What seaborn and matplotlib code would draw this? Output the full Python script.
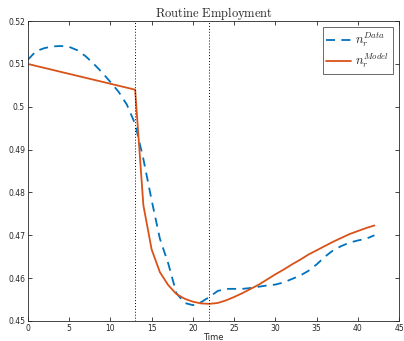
import numpy as np
import pandas as pd
import matplotlib.pyplot as plt
import seaborn as sns

# Routine employment, data vs model
time = list(range(0, 43))
n_data = [0.5110, 0.5130, 0.5137, 0.5141, 0.5142, 0.5140, 0.5132, 0.5118, 0.5100, 0.5080,
          0.5058, 0.5035, 0.5005, 0.4960, 0.4878, 0.4782, 0.4692, 0.4635, 0.4565, 0.4542,
          0.4537, 0.4544, 0.4556, 0.4570, 0.4575, 0.4575, 0.4575, 0.4577, 0.4580, 0.4583,
          0.4585, 0.4590, 0.4598, 0.4606, 0.4617, 0.4632, 0.4650, 0.4665, 0.4675, 0.4683,
          0.4688, 0.4692, 0.4700]
n_model = [0.5100, 0.50954, 0.50908, 0.50862, 0.50815, 0.50769, 0.50723, 0.50677, 0.50631, 0.50585,
           0.50538, 0.50492, 0.50446, 0.5040, 0.4770, 0.4667, 0.4614, 0.4584, 0.4563, 0.4552,
           0.4545, 0.4541, 0.4540, 0.4542, 0.4548, 0.4556, 0.4565, 0.4575, 0.4585, 0.4597,
           0.4609, 0.4620, 0.4632, 0.4643, 0.4655, 0.4665, 0.4675, 0.4685, 0.4694, 0.4703,
           0.4710, 0.4717, 0.4723]
shock_lines = [13, 22]

df = pd.DataFrame({'Time': time, 'Data': n_data, 'Model': n_model})

sns.set_style('white')
plt.rcParams['mathtext.fontset'] = 'cm'
plt.rcParams['font.family'] = ['DejaVu Sans']

fig = plt.figure(figsize=(4.04, 3.41), dpi=100)
ax = fig.add_axes([0.069, 0.0587, 0.919, 0.8793])

sns.lineplot(data=df, x='Time', y='Data', ax=ax, color='#0072BD', lw=1.3,
             linestyle=(0, (5, 3.5)), label=r'$n_r^{Data}$')
sns.lineplot(data=df, x='Time', y='Model', ax=ax, color='#D95319', lw=1.3,
             label=r'$n_r^{Model}$')
for xv in shock_lines:
    ax.axvline(xv, color='black', lw=0.7, linestyle=(0, (1, 2)))

ax.set_xlim(0, 45)
ax.set_ylim(0.45, 0.52)
ax.set_xticks(np.arange(0, 46, 5))
ax.set_yticks(np.arange(0.45, 0.5201, 0.01))
ax.set_yticklabels(['0.45', '0.46', '0.47', '0.48', '0.49', '0.5', '0.51', '0.52'])
ax.tick_params(direction='in', length=3, width=0.6, labelsize=5.5, colors='#262626',
               top=True, right=True, bottom=True, left=True, pad=2)
for s in ax.spines.values():
    s.set_color('#262626')
    s.set_linewidth(0.6)

ax.set_xlabel('Time', fontsize=6, color='#262626', labelpad=0)
ax.set_ylabel('')
ax.set_title(r'$\mathrm{Routine\ Employment}$', fontsize=9, pad=3)

leg = ax.legend(loc='upper right', fontsize=9, frameon=True, fancybox=False,
                handlelength=2.0, borderpad=0.3, labelspacing=0.2, handletextpad=0.3,
                borderaxespad=0.5)
leg.get_frame().set_edgecolor('#262626')
leg.get_frame().set_linewidth(0.6)

fig.savefig('out.png', dpi=100)
